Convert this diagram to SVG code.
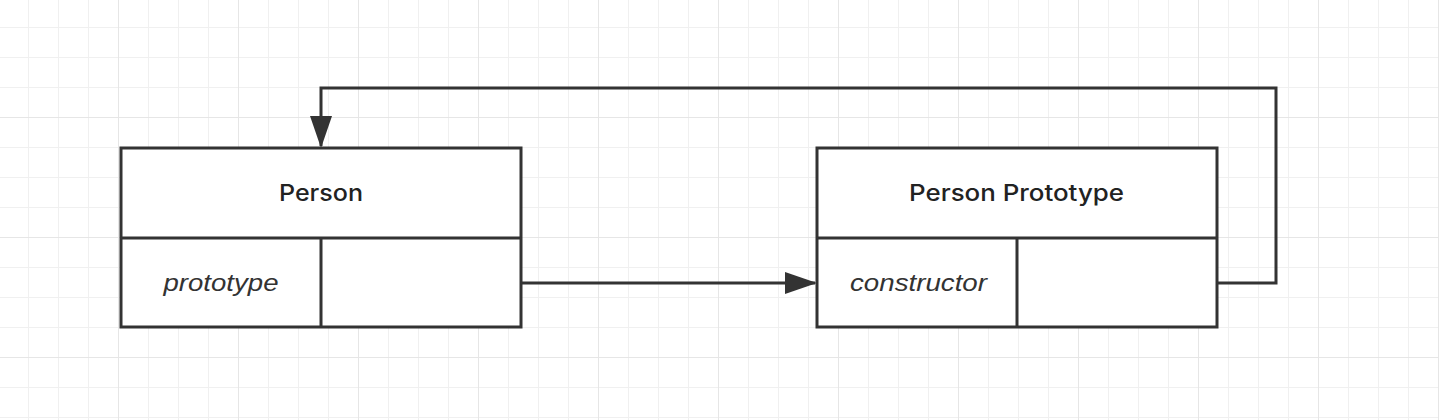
<svg xmlns="http://www.w3.org/2000/svg" width="1439" height="420" viewBox="0 0 1439 420">
<defs>
<pattern id="minor" x="28" y="27" width="30" height="30" patternUnits="userSpaceOnUse">
<path d="M0 0V30M0 0H30" fill="none" stroke="#f0f0f0" stroke-width="2"/>
</pattern>
<pattern id="major" x="118" y="117" width="120" height="120" patternUnits="userSpaceOnUse">
<path d="M0 0V120M0 0H120" fill="none" stroke="#e6e6e6" stroke-width="2"/>
</pattern>
<marker id="arr" viewBox="0 0 32 22" refX="30" refY="11" markerWidth="32" markerHeight="22" markerUnits="userSpaceOnUse" orient="auto">
<path d="M0 0L32 11L0 22Z" fill="#333"/>
</marker>
</defs>
<style>
.box{fill:#fff;stroke:#333;stroke-width:3}
.div{fill:none;stroke:#333;stroke-width:3}
.title{font-family:Inter,"Liberation Sans",Arial,sans-serif;font-size:23px;font-weight:500;fill:#222;text-anchor:middle}
.field{font-family:"Liberation Sans",Arial,sans-serif;font-size:23px;font-style:italic;fill:#333;text-anchor:middle}
.conn{fill:none;stroke:#333;stroke-width:3}
</style>
<rect width="1439" height="420" fill="#fff"/>
<rect width="1439" height="420" fill="url(#minor)"/>
<rect width="1439" height="420" fill="url(#major)"/>
<g id="person">
<rect class="box" x="121" y="148" width="400" height="179"/>
<path class="div" d="M121 238H521M321 238V327"/>
<text class="title" x="321" y="201" textLength="84" lengthAdjust="spacingAndGlyphs">Person</text>
<text class="field" x="221" y="291" textLength="115" lengthAdjust="spacingAndGlyphs">prototype</text>
</g>
<g id="person-prototype">
<rect class="box" x="817" y="148" width="400" height="179"/>
<path class="div" d="M817 238H1217M1017 238V327"/>
<text class="title" x="1016.5" y="201" textLength="215" lengthAdjust="spacingAndGlyphs">Person Prototype</text>
<text class="field" x="918.5" y="291" textLength="137" lengthAdjust="spacingAndGlyphs">constructor</text>
</g>
<g id="connectors">
<path class="conn" d="M522 283H815" marker-end="url(#arr)"/>
<path class="conn" d="M1218 283H1276V88H321V146" marker-end="url(#arr)"/>
</g>
</svg>
